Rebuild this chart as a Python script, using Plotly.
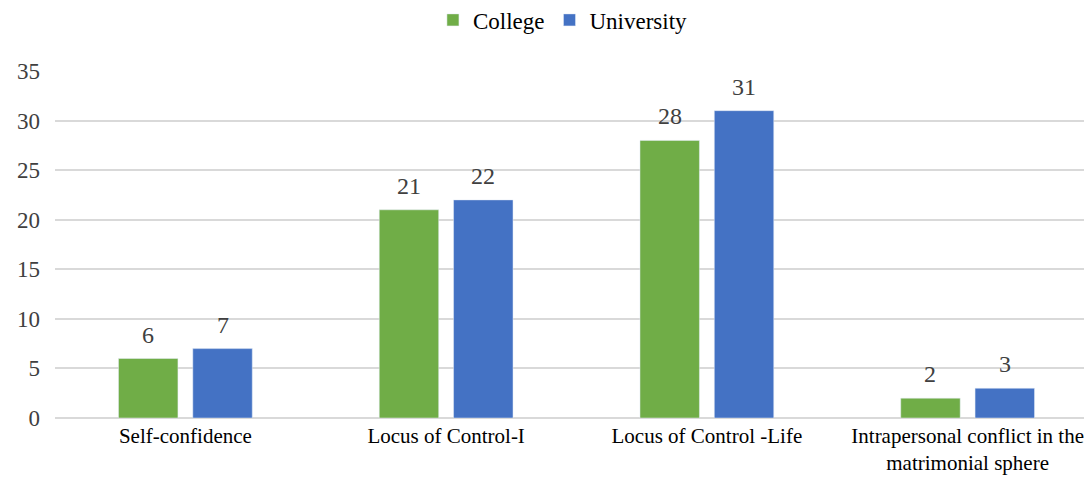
import plotly.graph_objects as go

categories = ["Self-confidence", "Locus of Control-I", "Locus of Control -Life",
              "Intrapersonal conflict in the<br>matrimonial sphere"]
college = [6, 21, 28, 2]
university = [7, 22, 31, 3]
series = [("College", college, "#70AD47"), ("University", university, "#4472C4")]

font_family = "Times New Roman, Liberation Serif, serif"

W, H = 1092, 477
ml, mr, mt, mb = 47, 2, 63, 67
bargap, bargroupgap = 0.43, 0.2

fig = go.Figure()
for name, vals, color in series:
    fig.add_trace(go.Bar(name=name, x=categories, y=vals, marker_color=color))

# data labels placed above each bar (offset derived from the bar layout)
cat_w = (W - ml - mr) / len(categories)
slot = (1 - bargap) * cat_w / len(series)
for i, (name, vals, color) in enumerate(series):
    off = (i - (len(series) - 1) / 2) * slot
    for c, v in zip(categories, vals):
        fig.add_annotation(x=c, y=v, text=str(v), showarrow=False, xshift=off,
                           yanchor="bottom", yshift=9,
                           font=dict(size=24, color="#404040", family=font_family))

fig.update_layout(
    width=W, height=H,
    margin=dict(l=ml, r=mr, t=mt, b=mb, autoexpand=False),
    paper_bgcolor="white", plot_bgcolor="white",
    barmode="group", bargap=bargap, bargroupgap=bargroupgap,
    font=dict(family=font_family, color="#404040"),
    legend=dict(orientation="h", x=0.487, xanchor="center", y=0.975, yanchor="middle",
                yref="container", font=dict(size=23, color="#000000", family=font_family),
                traceorder="normal"),
    xaxis=dict(tickfont=dict(size=21, color="#000000", family=font_family), showgrid=False,
               showline=False, ticks="", ticklabelstandoff=3),
    yaxis=dict(range=[0, 35], dtick=5, tickfont=dict(size=23, color="#404040", family=font_family),
               gridcolor="#d9d9d9", gridwidth=2, zeroline=True, zerolinecolor="#d9d9d9",
               zerolinewidth=2, ticklabelstandoff=14),
)
fig.write_html("out.html")
